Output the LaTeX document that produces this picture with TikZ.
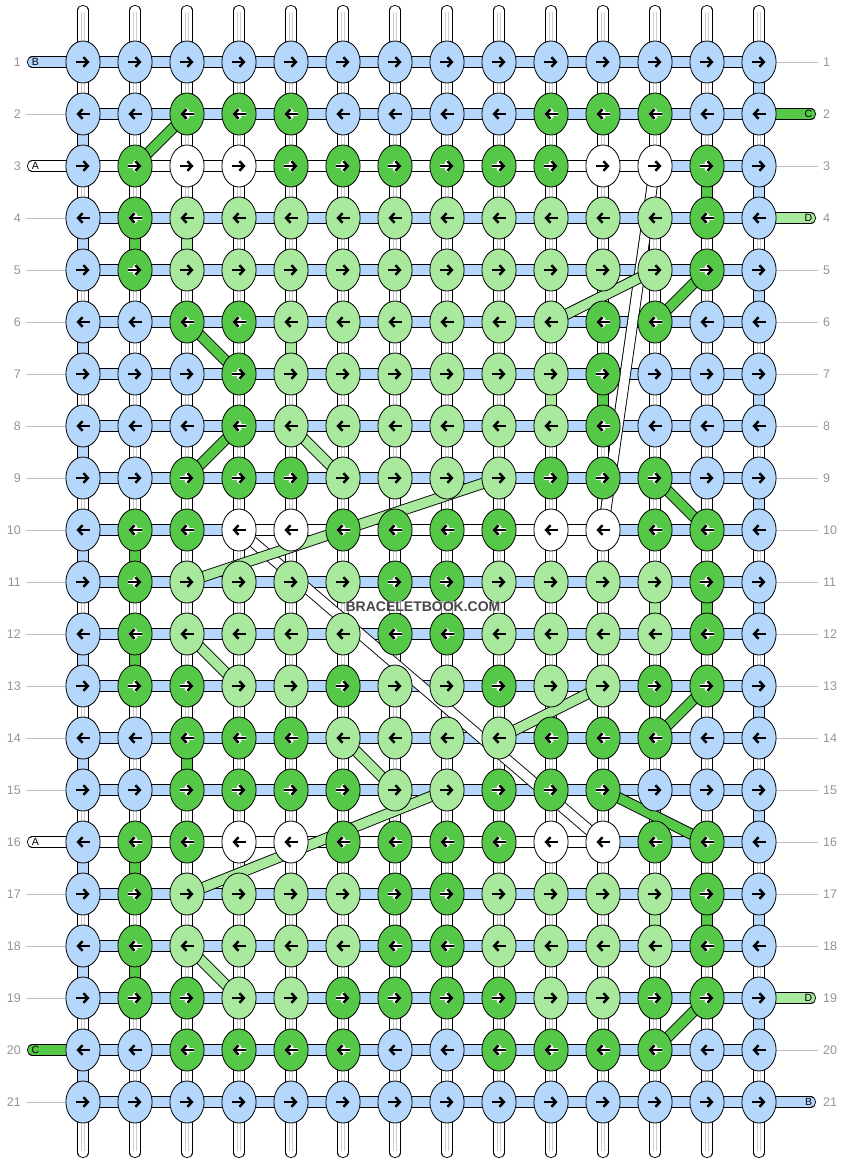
\documentclass[tikz,border=0pt]{standalone}
\usepackage{fontspec}
\setmainfont{Liberation Sans}
\usetikzlibrary{shapes.geometric,arrows.meta,backgrounds}
\definecolor{knotB}{HTML}{B4D7FB}
\definecolor{knotG}{HTML}{56C848}
\definecolor{knotL}{HTML}{A8E99E}
\colorlet{knotW}{white}
\colorlet{haloB}{knotB}
\colorlet{haloG}{white}
\colorlet{haloL}{knotL}
\colorlet{haloW}{white}
\colorlet{rulegray}{black!25}
\colorlet{numgray}{black!42}

\begin{document}
\begin{tikzpicture}[x=1pt,y=-1pt]
\useasboundingbox (0,0) rectangle (844,1164);
\tikzset{KnotStyle/.style ={ellipse, draw, line width=0.8pt, minimum width=34.2pt, minimum height=42pt, inner sep=0pt}}
\tikzset{ThreadStyle/.style ={line width=0.9pt, double=#1, double distance=9.4pt}}
\tikzset{StubStyle/.style ={ThreadStyle=#1, line cap=round}}
\tikzset{ArrowStyle/.style ={line width=2.4pt, -{Straight Barb[length=4.5pt,width=9.5pt]}}}
\tikzset{RowNumStyle/.style ={text=numgray, inner sep=0pt, font=\fontsize{12.5}{14}\selectfont}}
\tikzset{TagStyle/.style ={inner sep=0pt, font=\fontsize{10.5}{12}\selectfont}}
\tikzset{MarkStyle/.style ={text=black!72, fill=white, fill opacity=.55, text opacity=1, inner sep=1pt, font=\bfseries\fontsize{14}{16}\selectfont}}
\foreach \r/\row in {
  1/{B,B,B,B,B,B,B,B,B,B,B,B,B,B},
  2/{B,B,G,G,G,B,B,B,B,G,G,G,B,B},
  3/{B,G,W,W,G,G,G,G,G,G,W,W,G,B},
  4/{B,G,L,L,L,L,L,L,L,L,L,L,G,B},
  5/{B,G,L,L,L,L,L,L,L,L,L,L,G,B},
  6/{B,B,G,G,L,L,L,L,L,L,G,G,B,B},
  7/{B,B,B,G,L,L,L,L,L,L,G,B,B,B},
  8/{B,B,B,G,L,L,L,L,L,L,G,B,B,B},
  9/{B,B,G,G,G,L,L,L,L,G,G,G,B,B},
  10/{B,G,G,W,W,G,G,G,G,W,W,G,G,B},
  11/{B,G,L,L,L,L,G,G,L,L,L,L,G,B},
  12/{B,G,L,L,L,L,G,G,L,L,L,L,G,B},
  13/{B,G,G,L,L,G,L,L,G,L,L,G,G,B},
  14/{B,B,G,G,G,L,L,L,L,G,G,G,B,B},
  15/{B,B,G,G,G,G,L,L,G,G,G,B,B,B},
  16/{B,G,G,W,W,G,G,G,G,W,W,G,G,B},
  17/{B,G,L,L,L,L,G,G,L,L,L,L,G,B},
  18/{B,G,L,L,L,L,G,G,L,L,L,L,G,B},
  19/{B,G,G,L,L,G,G,G,G,L,L,G,G,B},
  20/{B,B,G,G,G,G,B,B,G,G,G,G,B,B},
  21/{B,B,B,B,B,B,B,B,B,B,B,B,B,B}}{
  \foreach \k [count=\c] in \row {
    \node[KnotStyle, fill=knot\k] (k-\r-\c) at ({31+52*\c},{10+52*\r}) {};
    \ifodd\r \def\dir{1}\else \def\dir{-1}\fi
    \draw[ArrowStyle, draw=halo\k, line width=4.4pt] ([xshift={-6.6*(\dir)}]k-\r-\c.center) -- ([xshift={6.6*(\dir)}]k-\r-\c.center);
    \draw[ArrowStyle] ([xshift={-6.6*(\dir)}]k-\r-\c.center) -- ([xshift={6.6*(\dir)}]k-\r-\c.center);
  }
}
\begin{scope}[on background layer]
\foreach \c in {1,...,14}{
  \coordinate (T-\c) at ({31+52*\c},10.5);
  \coordinate (U-\c) at ({31+52*\c},1152.5);
  \draw[StubStyle=white] (T-\c) -- (U-\c);
  \draw[black!20, line width=3.6pt, shorten <=1.5pt, shorten >=1.5pt] (T-\c) -- (U-\c);
  \draw[white, line width=2.2pt, shorten <=1.5pt, shorten >=1.5pt] (T-\c) -- (U-\c);
}
\foreach \r [evaluate=\r as \s using int(\r+1)] in {2,4,...,20}
  \draw[ThreadStyle=knotB] (k-\r-1.center) -- (k-\s-1.center);
\foreach \r [evaluate=\r as \s using int(\r+1)] in {1,3,...,19}
  \draw[ThreadStyle=knotB] (k-\r-14.center) -- (k-\s-14.center);
\foreach \c/\r/\k [evaluate=\r as \s using int(\r+1)] in {2/4/G,2/10/G,2/12/G,2/16/G,2/18/G,3/4/L,3/14/G,5/6/L,10/7/L,11/7/G,12/11/L,12/17/L,13/3/G,13/11/G,13/17/G}
  \draw[ThreadStyle=knot\k] (k-\r-\c.center) -- (k-\s-\c.center);
\foreach \r in {1,...,21}
  \draw[ThreadStyle=knotB] (k-\r-1.center) -- (k-\r-14.center);
\foreach \a/\b in {3-1/3-12,10-4/10-11,16-1/16-11}
  \draw[ThreadStyle=white] (k-\a.center) -- (k-\b.center);
\foreach \r in {2,4,5,6,7,8,9,10,11,12,13,14,15,17,18,19,21}{
  \coordinate (gl-\r) at (26,{10+52*\r});
  \draw[rulegray, line width=0.8pt] (gl-\r) -- (k-\r-1.center);
}
\foreach \r in {1,3,5,6,7,8,9,10,11,12,13,14,15,16,17,18,20}{
  \coordinate (gr-\r) at (818,{10+52*\r});
  \draw[rulegray, line width=0.8pt] (k-\r-14.center) -- (gr-\r);
}
\foreach \r/\k in {1/B,3/W,16/W,20/G}{
  \coordinate (L-\r) at (32.5,{10+52*\r});
  \draw[StubStyle=knot\k] (L-\r) -- (k-\r-1.center);
}
\foreach \r/\k in {2/G,4/L,19/L,21/B}{
  \coordinate (R-\r) at (810.5,{10+52*\r});
  \draw[StubStyle=knot\k] (k-\r-14.center) -- (R-\r);
}
\foreach \a/\b in {3-12/10-11,10-4/16-11}
  \draw[ThreadStyle=white] (k-\a.center) -- (k-\b.center);
\foreach \a/\b/\k in {2-3/3-2/G,5-12/6-10/L,5-13/6-12/G,6-3/7-4/G,8-4/9-3/G,8-5/9-6/L,9-9/11-3/L,9-12/10-13/G,12-3/13-4/L,13-11/14-9/L,13-13/14-12/G,14-6/15-7/L,15-8/17-3/L,15-11/16-13/G,18-3/19-4/L,19-13/20-12/G}
  \draw[ThreadStyle=knot\k] (k-\a.center) -- (k-\b.center);
\end{scope}
\foreach \r in {1,...,21}{
  \node[RowNumStyle, anchor=east] (nl-\r) at (21,{10+52*\r}) {\r};
  \node[RowNumStyle, anchor=west] (nr-\r) at (823,{10+52*\r}) {\r};
}
\foreach \r/\t in {1/B,3/A,16/A,20/C}
  \node[TagStyle] (tl-\r) at ([xshift=3pt]L-\r) {\t};
\foreach \r/\t in {2/C,4/D,19/D,21/B}
  \node[TagStyle] (tr-\r) at ([xshift=-2pt]R-\r) {\t};
\node[MarkStyle] (mark) at (423,607) {BRACELETBOOK.COM};
\end{tikzpicture}
\end{document}
